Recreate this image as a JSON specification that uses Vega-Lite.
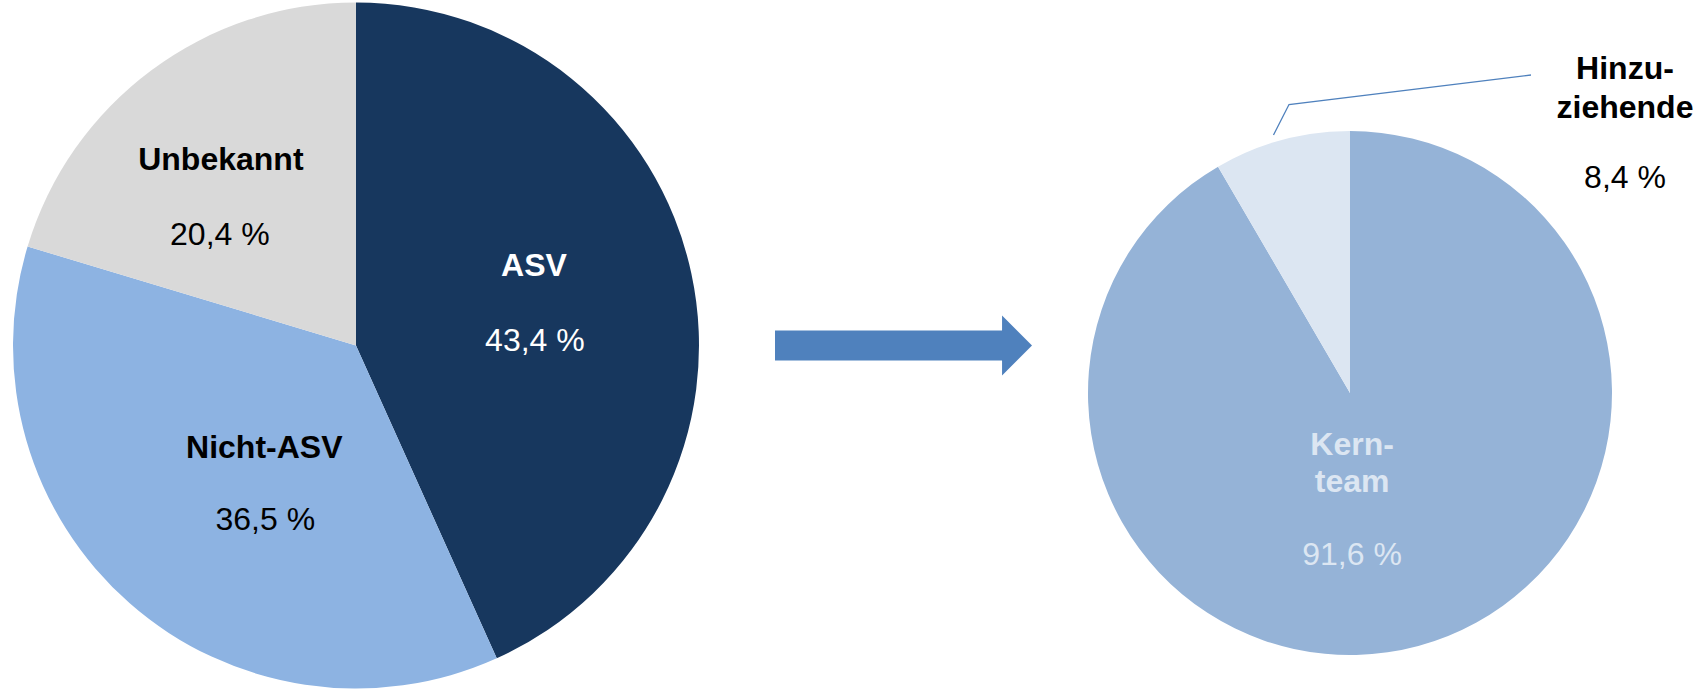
{
  "$schema": "https://vega.github.io/schema/vega-lite/v6.json",
  "padding": 0,
  "background": "white",
  "spacing": 0,
  "bounds": "flush",
  "resolve": {"scale": {"theta": "independent", "color": "independent"}},
  "config": {
    "view": {"stroke": null},
    "text": {"font": "Liberation Sans", "fontSize": 32},
    "locale": {"number": {"decimal": ",", "thousands": ".", "grouping": [3], "currency": ["", " %"]}}
  },
  "datasets": {
    "before": [
      {"cat": "ASV", "value": 43.4},
      {"cat": "Nicht-ASV", "value": 36.5},
      {"cat": "Unbekannt", "value": 20.4}
    ],
    "after": [
      {"cat": "Kernteam", "label": ["Kern-", "team"], "value": 91.6},
      {"cat": "Hinzuziehende", "label": ["Hinzu-", "ziehende"], "value": 8.4}
    ],
    "leader": [
      {"cat": "Hinzuziehende", "step": 0, "lx": -0.292, "ly": 0.9847},
      {"cat": "Hinzuziehende", "step": 1, "lx": -0.2328, "ly": 1.1011},
      {"cat": "Hinzuziehende", "step": 2, "lx": 0.6908, "ly": 1.2137}
    ],
    "arrow": [{"from": "vorher", "to": "nachher"}]
  },
  "hconcat": [
    {
      "width": 712,
      "height": 691,
      "data": {"name": "before"},
      "encoding": {
        "theta": {"field": "value", "type": "quantitative", "stack": true},
        "order": {"field": "value", "type": "quantitative", "sort": "descending"}
      },
      "layer": [
        {
          "mark": {"type": "arc", "radius": 343},
          "encoding": {
            "color": {"field": "cat", "type": "nominal", "legend": null,
              "scale": {"domain": ["ASV", "Nicht-ASV", "Unbekannt"], "range": ["#17375E", "#8DB3E2", "#D9D9D9"]}}
          }
        },
        {
          "mark": {"type": "text", "radius": 183, "dx": -1, "dy": -41.5, "fontWeight": "bold", "color": "#FFFFFF"},
          "encoding": {
            "detail": {"field": "cat", "type": "nominal"},
            "text": {"condition": {"test": "datum.cat === 'ASV'", "field": "cat", "type": "nominal"}, "value": ""}
          }
        },
        {
          "mark": {"type": "text", "radius": 183, "dx": 0, "dy": 33.5, "fontWeight": "normal", "color": "#FFFFFF"},
          "encoding": {
            "detail": {"field": "cat", "type": "nominal"},
            "text": {"condition": {"test": "datum.cat === 'ASV'", "field": "value", "type": "quantitative", "format": "$.1f"}, "value": ""}
          }
        },
        {
          "mark": {"type": "text", "radius": 183, "dx": 29, "dy": -35.5, "fontWeight": "bold", "color": "#000000"},
          "encoding": {
            "detail": {"field": "cat", "type": "nominal"},
            "text": {"condition": {"test": "datum.cat === 'Nicht-ASV'", "field": "cat", "type": "nominal"}, "value": ""}
          }
        },
        {
          "mark": {"type": "text", "radius": 183, "dx": 30, "dy": 36.5, "fontWeight": "normal", "color": "#000000"},
          "encoding": {
            "detail": {"field": "cat", "type": "nominal"},
            "text": {"condition": {"test": "datum.cat === 'Nicht-ASV'", "field": "value", "type": "quantitative", "format": "$.1f"}, "value": ""}
          }
        },
        {
          "mark": {"type": "text", "radius": 183, "dx": -26, "dy": -39, "fontWeight": "bold", "color": "#000000"},
          "encoding": {
            "detail": {"field": "cat", "type": "nominal"},
            "text": {"condition": {"test": "datum.cat === 'Unbekannt'", "field": "cat", "type": "nominal"}, "value": ""}
          }
        },
        {
          "mark": {"type": "text", "radius": 183, "dx": -27, "dy": 36, "fontWeight": "normal", "color": "#000000"},
          "encoding": {
            "detail": {"field": "cat", "type": "nominal"},
            "text": {"condition": {"test": "datum.cat === 'Unbekannt'", "field": "value", "type": "quantitative", "format": "$.1f"}, "value": ""}
          }
        }
      ]
    },
    {
      "width": 383,
      "height": 691,
      "data": {"name": "arrow"},
      "mark": {
        "type": "point",
        "shape": "M-1,-0.117L0.767,-0.117L0.767,-0.233L1,0L0.767,0.233L0.767,0.117L-1,0.117Z",
        "size": 66049,
        "filled": true,
        "color": "#4F81BD",
        "opacity": 1,
        "strokeWidth": 0
      },
      "encoding": {}
    },
    {
      "vconcat": [
        {
          "width": 510,
          "height": 95,
          "data": {"values": []},
          "mark": {"type": "point", "opacity": 0},
          "encoding": {}
        },
        {
          "width": 510,
          "height": 596,
          "layer": [
            {
              "data": {"name": "after"},
              "mark": {"type": "arc", "radius": 262},
              "encoding": {
                "theta": {"field": "value", "type": "quantitative", "stack": true},
                "order": {"field": "value", "type": "quantitative", "sort": "descending"},
                "color": {"field": "cat", "type": "nominal", "legend": null,
                  "scale": {"domain": ["Kernteam", "Hinzuziehende"], "range": ["#95B3D7", "#DCE6F2"]}}
              }
            },
            {
              "data": {"name": "after"},
              "mark": {"type": "text", "radius": 100, "dx": -24, "dy": -45, "lineHeight": 37, "fontWeight": "bold", "color": "#DCE6F2"},
              "encoding": {
                "theta": {"field": "value", "type": "quantitative", "stack": true},
                "order": {"field": "value", "type": "quantitative", "sort": "descending"},
                "detail": {"field": "cat", "type": "nominal"},
                "text": {"condition": {"test": "datum.cat === 'Kernteam'", "field": "label", "type": "nominal"}, "value": ""}
              }
            },
            {
              "data": {"name": "after"},
              "mark": {"type": "text", "radius": 100, "dx": -24, "dy": 65, "fontWeight": "normal", "color": "#DCE6F2"},
              "encoding": {
                "theta": {"field": "value", "type": "quantitative", "stack": true},
                "order": {"field": "value", "type": "quantitative", "sort": "descending"},
                "detail": {"field": "cat", "type": "nominal"},
                "text": {"condition": {"test": "datum.cat === 'Kernteam'", "field": "value", "type": "quantitative", "format": "$.1f"}, "value": ""}
              }
            },
            {
              "data": {"name": "leader"},
              "mark": {"type": "line", "color": "#4F81BD", "strokeWidth": 1.3},
              "encoding": {
                "x": {"field": "lx", "type": "quantitative", "axis": null, "scale": {"domain": [-0.9733, 0.9733], "nice": false, "zero": false}},
                "y": {"field": "ly", "type": "quantitative", "axis": null, "scale": {"domain": [-1.1374, 1.1374], "nice": false, "zero": false}},
                "order": {"field": "step", "type": "quantitative"}
              }
            },
            {
              "data": {"name": "leader"},
              "transform": [
                {"filter": "datum.step === 2"},
                {"lookup": "cat", "from": {"data": {"name": "after"}, "key": "cat", "fields": ["label", "value"]}}
              ],
              "mark": {"type": "text", "dx": 94, "dy": -6, "lineHeight": 39, "fontWeight": "bold", "color": "#000000"},
              "encoding": {
                "x": {"field": "lx", "type": "quantitative"},
                "y": {"field": "ly", "type": "quantitative"},
                "text": {"field": "label", "type": "nominal"}
              }
            },
            {
              "data": {"name": "leader"},
              "transform": [
                {"filter": "datum.step === 2"},
                {"lookup": "cat", "from": {"data": {"name": "after"}, "key": "cat", "fields": ["label", "value"]}}
              ],
              "mark": {"type": "text", "dx": 94, "dy": 102.5, "fontWeight": "normal", "color": "#000000"},
              "encoding": {
                "x": {"field": "lx", "type": "quantitative"},
                "y": {"field": "ly", "type": "quantitative"},
                "text": {"field": "value", "type": "quantitative", "format": "$.1f"}
              }
            }
          ]
        }
      ],
      "spacing": 0,
      "bounds": "flush"
    }
  ]
}
